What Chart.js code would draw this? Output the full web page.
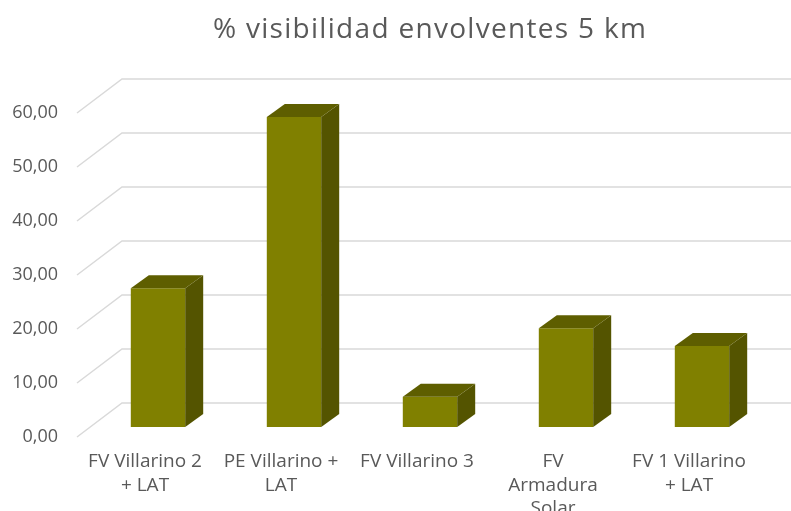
<!DOCTYPE html>
<html>
<head>
<meta charset="utf-8">
<script src="https://cdn.jsdelivr.net/npm/chart.js@4.4.0/dist/chart.umd.min.js"></script>
<style>
  html, body { margin: 0; padding: 0; background: #fff; }
  #wrap { width: 791px; height: 511px; }
</style>
</head>
<body>
<div id="wrap"><canvas id="myChart"></canvas></div>
<script>
var categories = [
  ["FV Villarino 2", "+ LAT"],
  ["PE Villarino +", "LAT"],
  ["FV Villarino 3"],
  ["FV", "Armadura", "Solar"],
  ["FV 1 Villarino", "+ LAT"]
];
var visibilidad = [25.7, 57.4, 5.6, 18.3, 15.0];
var yMax = 60;
var yStep = 10;
var chartTitle = "% visibilidad envolventes 5 km";

// 3d look: offsets of the back wall, of the bar front and of the bar depth
var wall = { dx: 45, dy: -34 };
var shift = { dx: 13, dy: -10 };
var depth = { dx: 18, dy: -13 };

var fake3d = {
  id: "fake3d",
  beforeDraw: function (chart) {
    var ctx = chart.ctx;
    var yScale = chart.scales.y;
    var left = chart.chartArea.left;
    ctx.save();
    ctx.strokeStyle = "#d9d9d9";
    ctx.lineWidth = 1.5;
    for (var v = 0; v <= yMax; v += yStep) {
      var y = yScale.getPixelForValue(v);
      ctx.beginPath();
      ctx.moveTo(left, y);
      ctx.lineTo(left + wall.dx, y + wall.dy);
      ctx.lineTo(chart.width, y + wall.dy);
      ctx.stroke();
    }
    ctx.restore();

    ctx.save();
    ctx.fillStyle = "#595959";
    ctx.font = "28px 'Open Sans'";
    ctx.letterSpacing = "1.3px";
    ctx.textAlign = "center";
    ctx.textBaseline = "alphabetic";
    ctx.fillText(chartTitle, 430, 38);
    ctx.restore();
  },
  beforeDatasetsDraw: function (chart) {
    chart.ctx.save();
    chart.ctx.translate(shift.dx, shift.dy);
  },
  afterDatasetsDraw: function (chart) {
    var ctx = chart.ctx;
    var bars = chart.getDatasetMeta(0).data;
    for (var i = 0; i < bars.length; i++) {
      var b = bars[i];
      var l = b.x - b.width / 2;
      var r = b.x + b.width / 2;
      var t = b.y;
      var bot = b.base;
      ctx.fillStyle = "#545400";
      ctx.beginPath();
      ctx.moveTo(r, t);
      ctx.lineTo(r + depth.dx, t + depth.dy);
      ctx.lineTo(r + depth.dx, bot + depth.dy);
      ctx.lineTo(r, bot);
      ctx.closePath();
      ctx.fill();
      ctx.fillStyle = "#5e5e00";
      ctx.beginPath();
      ctx.moveTo(l, t);
      ctx.lineTo(l + depth.dx, t + depth.dy);
      ctx.lineTo(r + depth.dx, t + depth.dy);
      ctx.lineTo(r, t);
      ctx.closePath();
      ctx.fill();
    }
    ctx.restore();
  }
};

const ctx = document.getElementById("myChart");
const myChart = new Chart(ctx, {
  type: "bar",
  data: {
    labels: categories,
    datasets: [
      {
        label: chartTitle,
        data: visibilidad,
        backgroundColor: "#808000",
        borderWidth: 0,
        categoryPercentage: 1,
        barPercentage: 0.4,
        clip: false
      }
    ]
  },
  options: {
    responsive: true,
    maintainAspectRatio: false,
    animation: false,
    layout: { padding: { top: 113, right: 34, left: 0, bottom: 0 } },
    plugins: {
      legend: { display: false },
      title: { display: false },
      tooltip: { enabled: false }
    },
    scales: {
      x: {
        grid: { display: false },
        border: { display: false },
        ticks: {
          color: "#595959",
          font: { family: "'Open Sans'", size: 19, lineHeight: 1.24 },
          padding: 5,
          maxRotation: 0,
          autoSkip: false
        },
        afterFit: function (scale) { scale.height = 74; }
      },
      y: {
        min: 0,
        max: yMax,
        grid: { display: false, drawTicks: false },
        border: { display: false },
        ticks: {
          stepSize: yStep,
          color: "#595959",
          font: { family: "'Open Sans'", size: 18 },
          padding: 19,
          callback: function (v) { return v.toFixed(2).replace(".", ","); }
        },
        afterFit: function (scale) { scale.width = 77; }
      }
    }
  },
  plugins: [fake3d]
});
</script>
</body>
</html>
